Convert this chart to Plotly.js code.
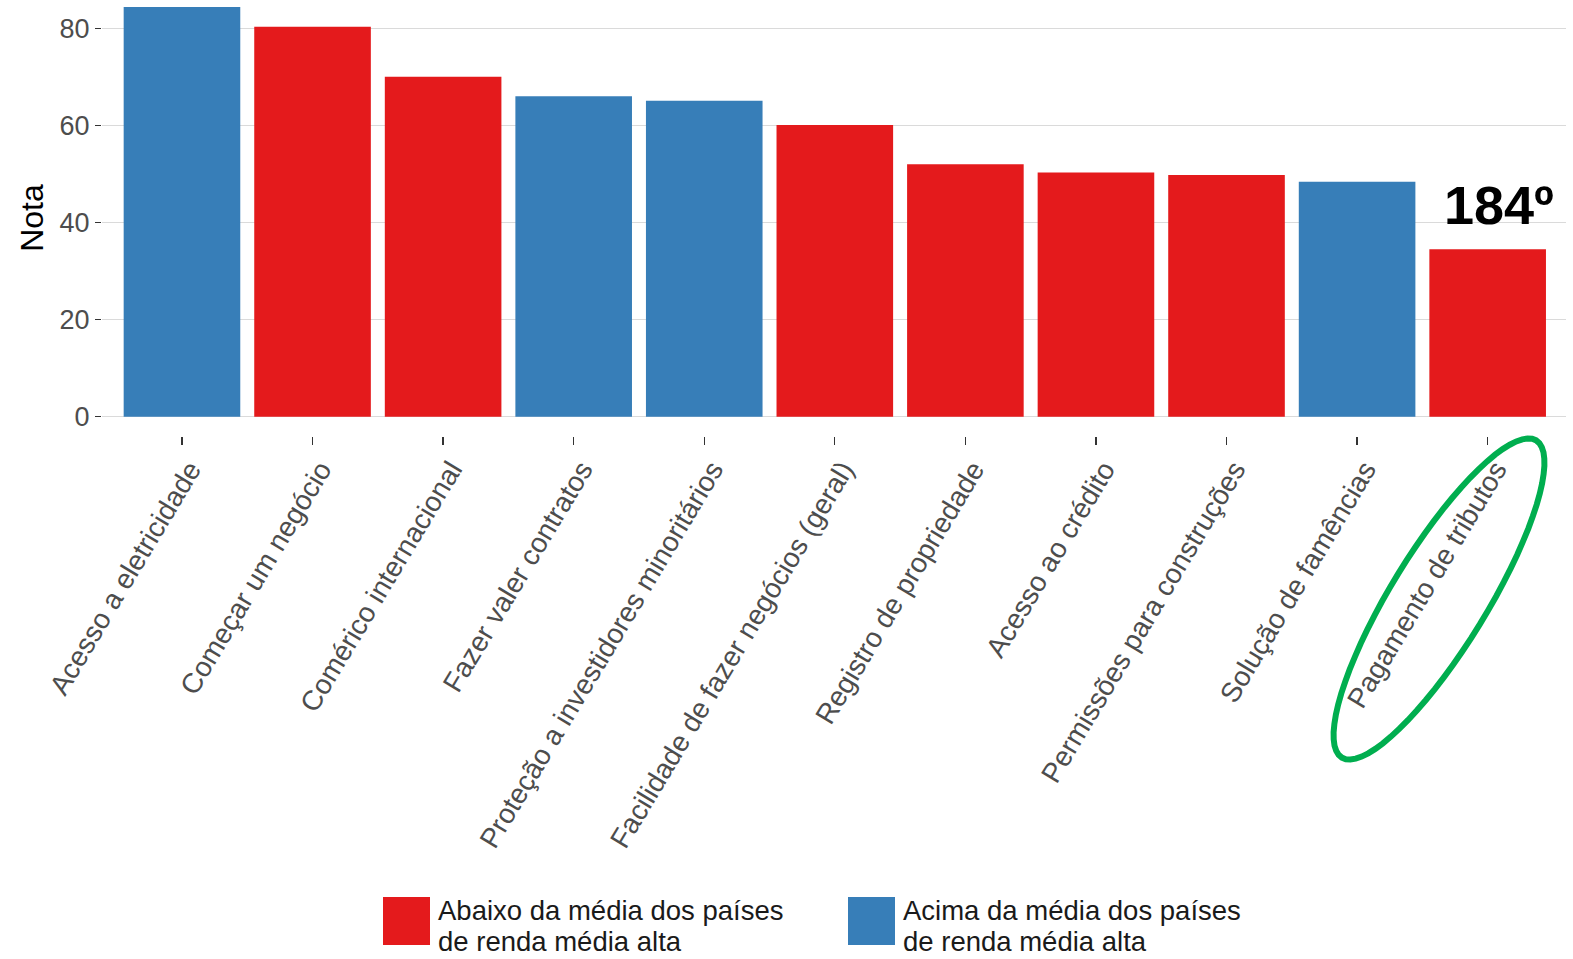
<!DOCTYPE html>
<html>
<head>
<meta charset="utf-8">
<script src="https://cdn.plot.ly/plotly-3.0.1.min.js"></script>
<style>html,body{margin:0;padding:0;background:#fff;}#chart{width:1573px;height:959px;}</style>
</head>
<body>
<div id="chart"></div>
<script>
// ---- data ----
const categories = [
  "Acesso a eletricidade",
  "Começar um negócio",
  "Comérico internacional",
  "Fazer valer contratos",
  "Proteção a investidores minoritários",
  "Facilidade de fazer negócios (geral)",
  "Registro de propriedade",
  "Acesso ao crédito",
  "Permissões para construções",
  "Solução de famências",
  "Pagamento de tributos"
];
const values = [84.4, 80.3, 70.0, 66.0, 65.1, 60.1, 52.0, 50.3, 49.8, 48.4, 34.5];
const groups = ["acima", "abaixo", "abaixo", "acima", "acima", "abaixo", "abaixo", "abaixo", "abaixo", "acima", "abaixo"];
const seriesNames = {
  abaixo: ["Abaixo da média dos países", "de renda média alta"],
  acima: ["Acima da média dos países", "de renda média alta"]
};
const seriesColors = { abaixo: "#E41A1C", acima: "#377EB8" };
const yTicks = [0, 20, 40, 60, 80];
const rankLabel = "184º";

// ---- layout geometry ----
const W = 1573, H = 959;
const M = { l: 102, r: 7, t: 0, b: 523 };
const PW = W - M.l - M.r, PH = H - M.t - M.b;
const px2x = px => (px - M.l) / PW;
const px2y = py => 1 - (py - M.t) / PH;
const FONT = "Liberation Sans, Arial, sans-serif";

function traceFor(g) {
  const xs = [], ys = [];
  categories.forEach((c, i) => { if (groups[i] === g) { xs.push(c); ys.push(values[i]); } });
  return {
    type: "bar", x: xs, y: ys, name: seriesNames[g].join(" "),
    marker: { color: seriesColors[g], line: { width: 0 } },
    showlegend: false, hoverinfo: "x+y"
  };
}
const data = [traceFor("abaixo"), traceFor("acima")];

// legend (custom, large swatches)
const shapes = [];
const annotations = [];
const legendItems = [
  { g: "abaixo", box: [383, 897, 430, 945], tx: 437 },
  { g: "acima", box: [848, 897, 895, 945], tx: 902 }
];
legendItems.forEach(it => {
  shapes.push({
    type: "rect", xref: "paper", yref: "paper",
    x0: px2x(it.box[0]), x1: px2x(it.box[2]), y0: px2y(it.box[3]), y1: px2y(it.box[1]),
    fillcolor: seriesColors[it.g], line: { width: 0 }
  });
  seriesNames[it.g].forEach((line, k) => {
    annotations.push({
      xref: "paper", yref: "paper", x: px2x(it.tx), y: px2y(910 + k * 31.5),
      xanchor: "left", yanchor: "middle", showarrow: false, text: line,
      borderpad: 0,
      font: { family: FONT, size: 27.5, color: "#1a1a1a" }
    });
  });
});

// rank label
annotations.push({
  xref: "paper", yref: "paper", x: px2x(1499), y: px2y(205),
  xanchor: "center", yanchor: "middle", showarrow: false,
  text: "<b>" + rankLabel + "</b>",
  font: { family: FONT, size: 54, color: "#000" }
});

// green ellipse highlighting the label
(function () {
  const a = 186, b = 48, th = 58.5 * Math.PI / 180;
  let p = "";
  for (let k = 0; k <= 72; k++) {
    const t = 2 * Math.PI * k / 72;
    const ex = a * Math.cos(t), ey = b * Math.sin(t);
    const X = ex * Math.cos(th) - ey * Math.sin(th);
    const Y = ex * Math.sin(th) + ey * Math.cos(th);
    p += (k === 0 ? "M" : "L") + X.toFixed(1) + "," + Y.toFixed(1);
  }
  p += "Z";
  shapes.push({
    type: "path", xref: "paper", yref: "paper",
    xsizemode: "pixel", ysizemode: "pixel",
    xanchor: px2x(1439), yanchor: px2y(599),
    path: p, line: { color: "#00AE4F", width: 6 }, fillcolor: "rgba(0,0,0,0)"
  });
})();

const layout = {
  width: W, height: H,
  margin: M,
  paper_bgcolor: "#fff", plot_bgcolor: "#fff",
  barmode: "overlay", bargap: 0.107,
  font: { family: FONT, color: "#4d4d4d" },
  showlegend: false,
  xaxis: {
    type: "category", categoryorder: "array", categoryarray: categories,
    range: [-0.6125, 10.6],
    showgrid: false, zeroline: false, showline: false,
    ticks: "outside", ticklen: 8, tickwidth: 1.3, tickcolor: "#333",
    tickangle: -59,
    ticklabelshift: 8, ticklabelstandoff: -3,
    tickfont: { family: FONT, size: 28, color: "#4d4d4d" },
    automargin: false
  },
  yaxis: {
    range: [-3.98, 85.83],
    tickvals: yTicks, ticktext: yTicks.map(String),
    showgrid: true, gridcolor: "#dadada", gridwidth: 1.2,
    zeroline: false, showline: false,
    ticks: "outside", ticklen: 6, tickwidth: 1.3, tickcolor: "#333",
    tickfont: { family: FONT, size: 27, color: "#4d4d4d" },
    title: { text: "Nota", font: { family: FONT, size: 32, color: "#000" }, standoff: 6 },
    automargin: false
  },
  shapes: shapes,
  annotations: annotations
};

Plotly.newPlot("chart", data, layout, { displayModeBar: false, staticPlot: true });
</script>
</body>
</html>
